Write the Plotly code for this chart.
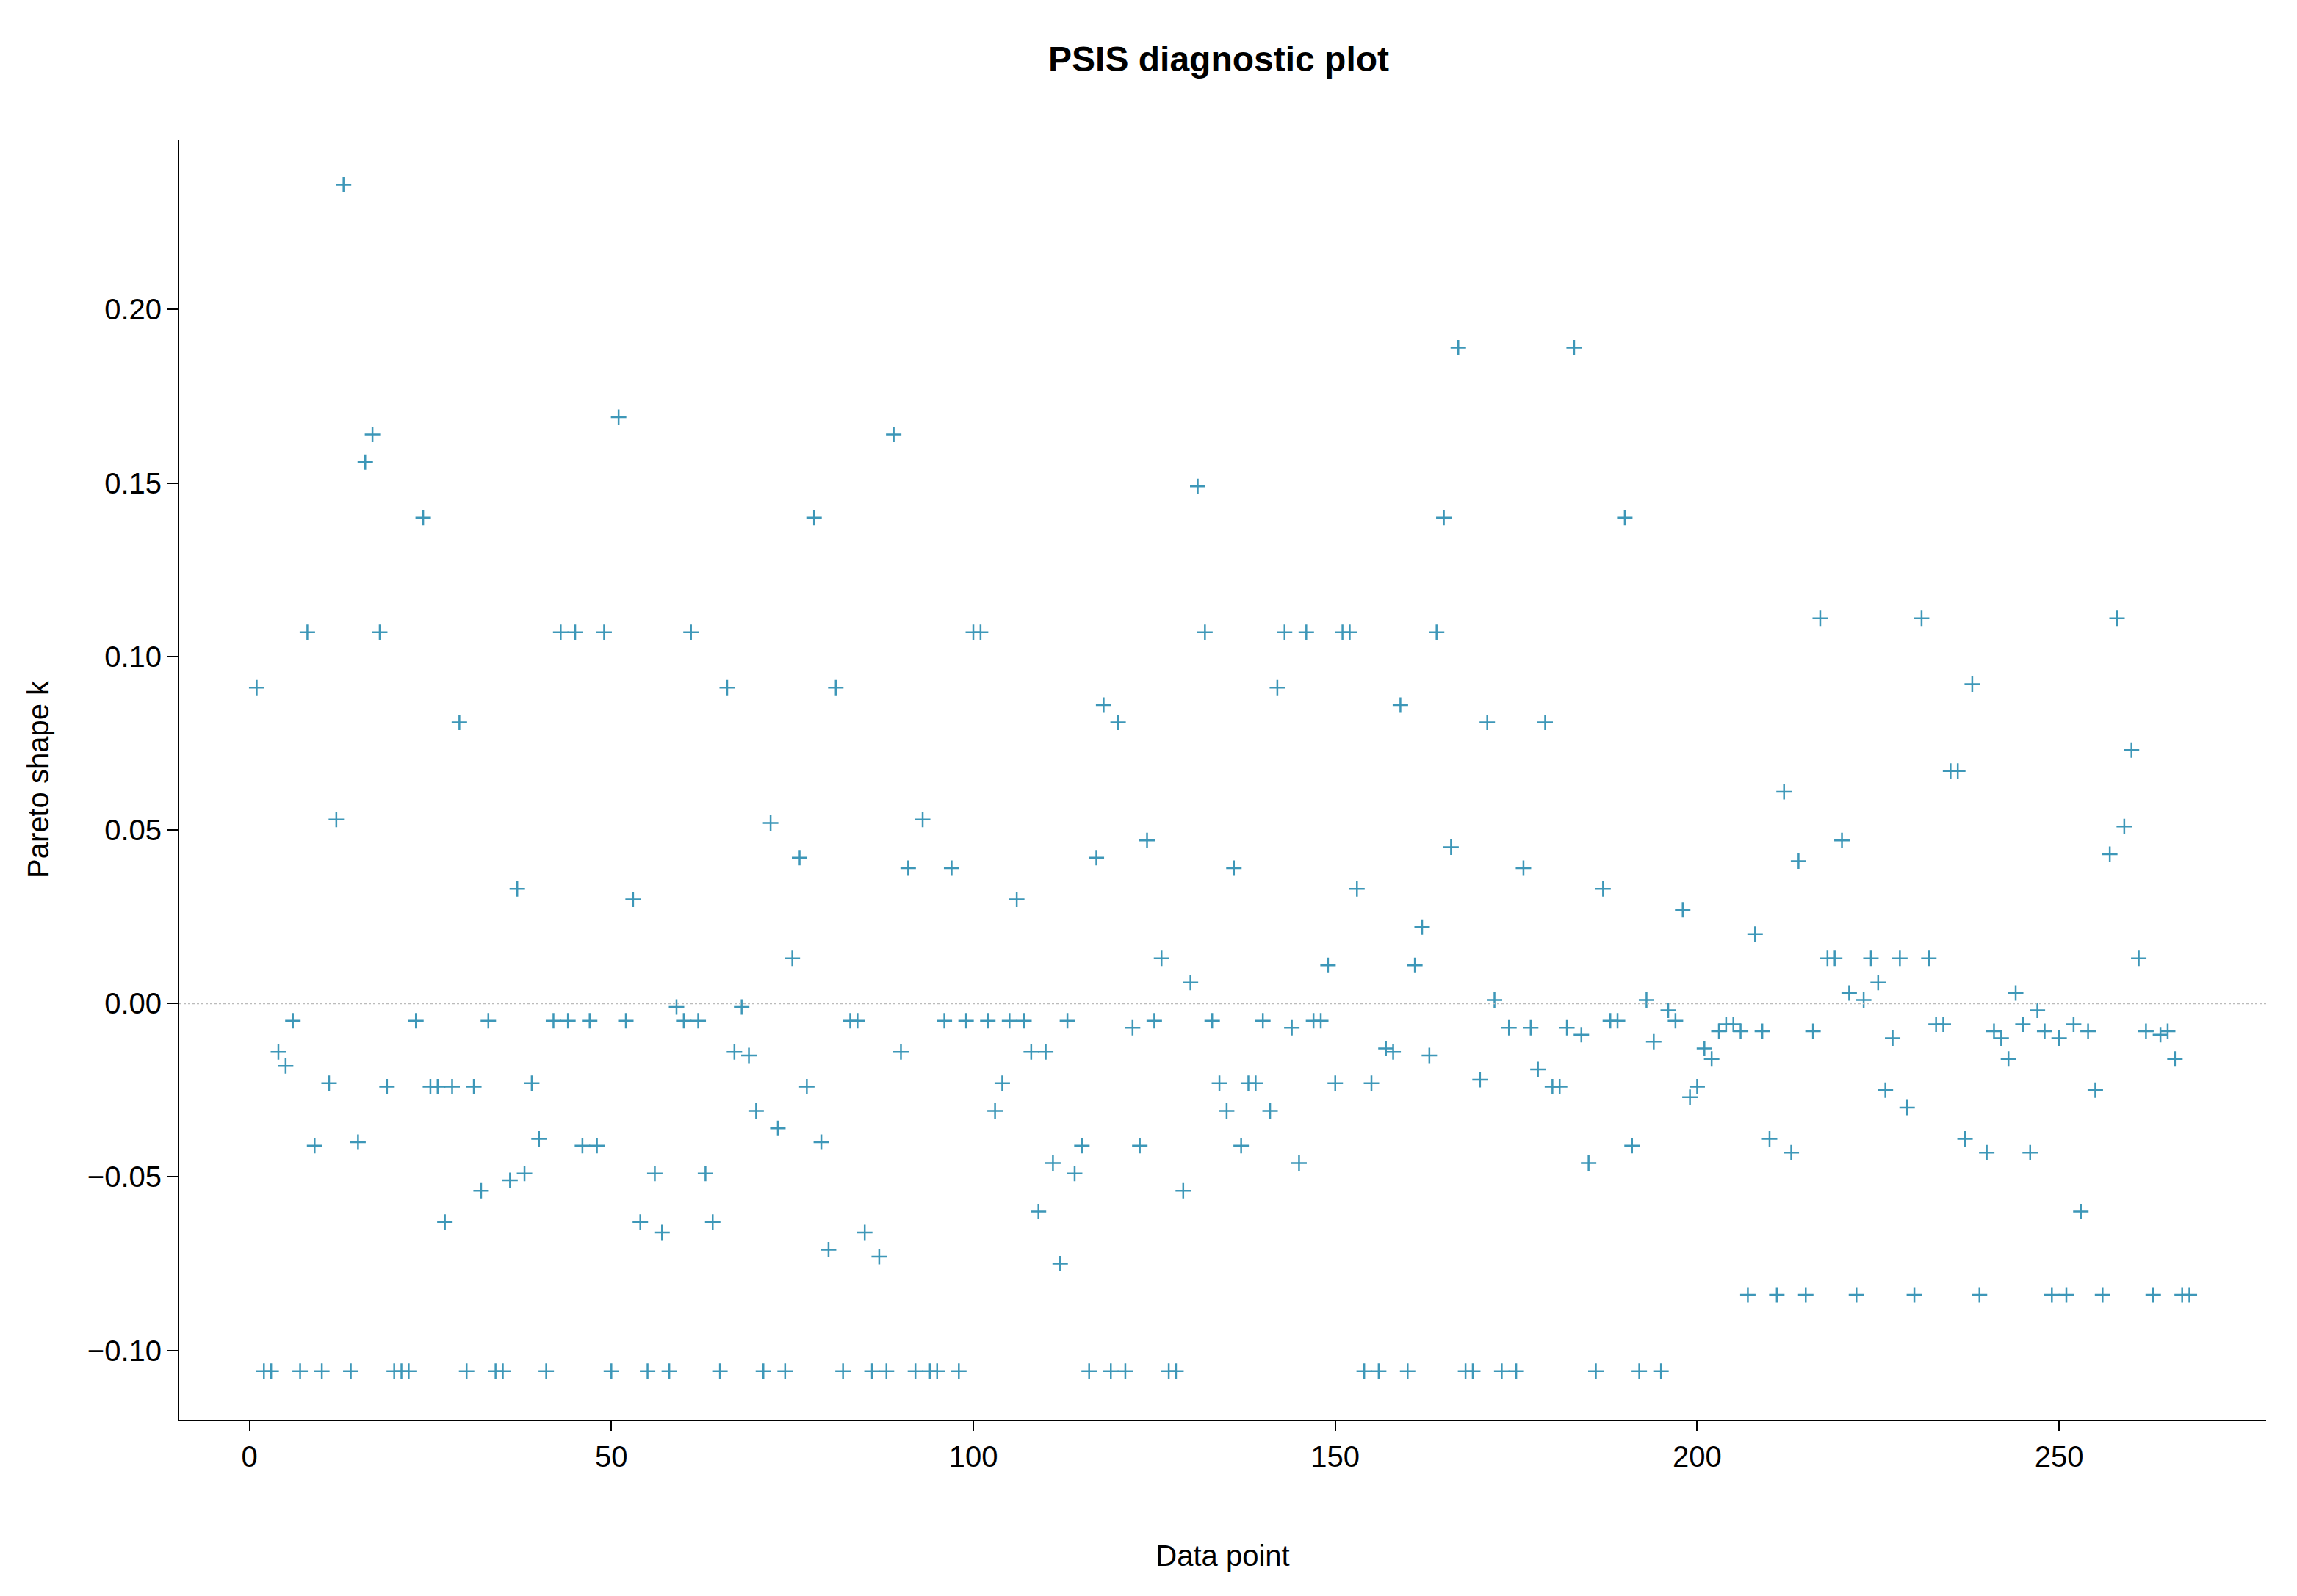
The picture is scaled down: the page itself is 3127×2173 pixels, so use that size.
import plotly.graph_objects as go

k_values = [
0.091,-0.106,-0.106,-0.014,-0.018,-0.005,-0.106,0.107,-0.041,-0.106,
-0.023,0.053,0.236,-0.106,-0.040,0.156,0.164,0.107,-0.024,-0.106,
-0.106,-0.106,-0.005,0.140,-0.024,-0.024,-0.063,-0.024,0.081,-0.106,
-0.024,-0.054,-0.005,-0.106,-0.106,-0.051,0.033,-0.049,-0.023,-0.039,
-0.106,-0.005,0.107,-0.005,0.107,-0.041,-0.005,-0.041,0.107,-0.106,
0.169,-0.005,0.030,-0.063,-0.106,-0.049,-0.066,-0.106,-0.001,-0.005,
0.107,-0.005,-0.049,-0.063,-0.106,0.091,-0.014,-0.001,-0.015,-0.031,
-0.106,0.052,-0.036,-0.106,0.013,0.042,-0.024,0.140,-0.040,-0.071,
0.091,-0.106,-0.005,-0.005,-0.066,-0.106,-0.073,-0.106,0.164,-0.014,
0.039,-0.106,0.053,-0.106,-0.106,-0.005,0.039,-0.106,-0.005,0.107,
0.107,-0.005,-0.031,-0.023,-0.005,0.030,-0.005,-0.014,-0.060,-0.014,
-0.046,-0.075,-0.005,-0.049,-0.041,-0.106,0.042,0.086,-0.106,0.081,
-0.106,-0.007,-0.041,0.047,-0.005,0.013,-0.106,-0.106,-0.054,0.006,
0.149,0.107,-0.005,-0.023,-0.031,0.039,-0.041,-0.023,-0.023,-0.005,
-0.031,0.091,0.107,-0.007,-0.046,0.107,-0.005,-0.005,0.011,-0.023,
0.107,0.107,0.033,-0.106,-0.023,-0.106,-0.013,-0.014,0.086,-0.106,
0.011,0.022,-0.015,0.107,0.140,0.045,0.189,-0.106,-0.106,-0.022,
0.081,0.001,-0.106,-0.007,-0.106,0.039,-0.007,-0.019,0.081,-0.024,
-0.024,-0.007,0.189,-0.009,-0.046,-0.106,0.033,-0.005,-0.005,0.140,
-0.041,-0.106,0.001,-0.011,-0.106,-0.002,-0.005,0.027,-0.027,-0.024,
-0.013,-0.016,-0.008,-0.006,-0.006,-0.008,-0.084,0.020,-0.008,-0.039,
-0.084,0.061,-0.043,0.041,-0.084,-0.008,0.111,0.013,0.013,0.047,
0.003,-0.084,0.001,0.013,0.006,-0.025,-0.010,0.013,-0.030,-0.084,
0.111,0.013,-0.006,-0.006,0.067,0.067,-0.039,0.092,-0.084,-0.043,
-0.008,-0.010,-0.016,0.003,-0.006,-0.043,-0.002,-0.008,-0.084,-0.010,
-0.084,-0.006,-0.060,-0.008,-0.025,-0.084,0.043,0.111,0.051,0.073,
0.013,-0.008,-0.084,-0.009,-0.008,-0.016,-0.084,-0.084,
]
data_point = list(range(1, len(k_values) + 1))
x_ticks = [0, 50, 100, 150, 200, 250]
y_ticks = [-0.10, -0.05, 0.00, 0.05, 0.10, 0.15, 0.20]

color = "#3d97b8"
fig = go.Figure(go.Scatter(
    x=data_point, y=k_values, mode="markers",
    marker=dict(symbol="cross-thin", size=15, line=dict(color=color, width=2.5), color=color),
))
fig.add_hline(y=0, line=dict(color="#bbbbbb", width=2, dash="dot"))
axis_common = dict(showline=True, linecolor="black", linewidth=2, ticks="outside",
                   ticklen=14, tickwidth=2, tickcolor="black", showgrid=False, zeroline=False,
                   tickfont=dict(size=40, color="black"))
fig.update_layout(
    width=3127, height=2173, plot_bgcolor="white", paper_bgcolor="white",
    font=dict(family="Liberation Sans, Arial", color="black"),
    title=dict(text="<b>PSIS diagnostic plot</b>", x=0.528, xanchor="center", y=0.967, yanchor="middle",
               font=dict(size=48)),
    margin=dict(l=236, r=50, t=182, b=248),
    showlegend=False,
    xaxis=dict(range=[-9.7, 278.6], tickvals=x_ticks,
               title=dict(text="Data point", font=dict(size=40), standoff=100), **axis_common),
    yaxis=dict(range=[-0.120, 0.249], tickvals=y_ticks, tickformat=".2f",
               title=dict(text="Pareto shape k", font=dict(size=40), standoff=40), **axis_common),
)
fig.write_html("out.html")
